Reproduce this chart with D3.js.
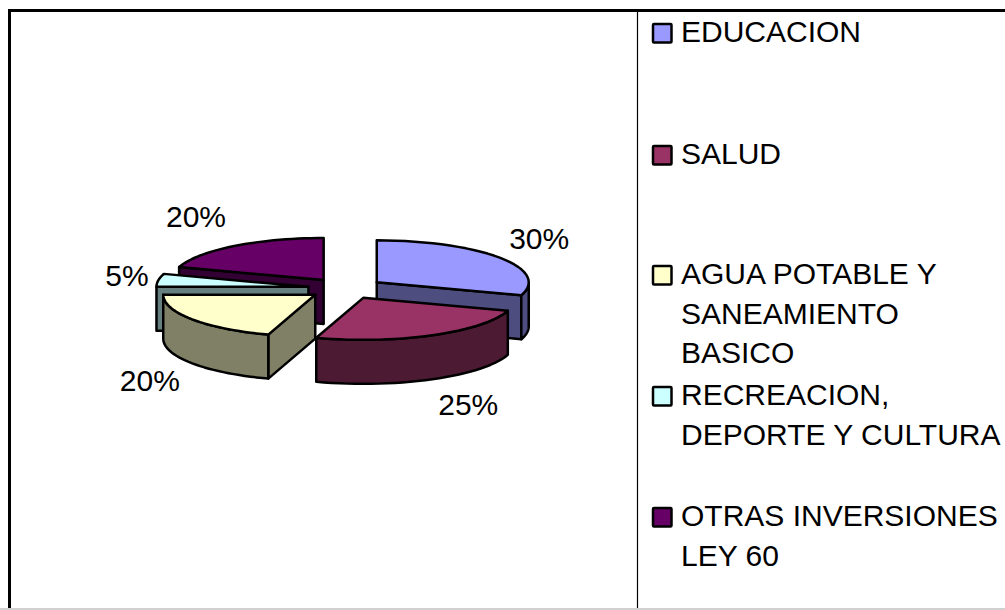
<!DOCTYPE html>
<html>
<head>
    <title>Inversion por sector</title>
    <style>
        html, body { margin: 0; padding: 0; background: #fff; }
        svg { display: block; }
        text { font-family: "Liberation Sans", Arial, sans-serif; fill: #000; }
    </style>
    <script src="https://d3js.org/d3.v7.min.js"></script>
</head>
<body>
    <svg id="chart"></svg>

    <script>
        const categories = ["EDUCACION", "SALUD", "AGUA POTABLE Y SANEAMIENTO BASICO", "RECREACION, DEPORTE Y CULTURA", "OTRAS INVERSIONES LEY 60"];
        const shares = [30, 25, 20, 5, 20];
        const legendLines = [["EDUCACION"], ["SALUD"], ["AGUA POTABLE Y", "SANEAMIENTO", "BASICO"], ["RECREACION,", "DEPORTE Y CULTURA"], ["OTRAS INVERSIONES", "LEY 60"]];
        const faceColors = ["#9999ff", "#993366", "#ffffcc", "#ccffff", "#660066"];
        const wallColors = ["#4d4d80", "#4d1a33", "#808066", "#668080", "#330033"];

        const width = 1005;
        const height = 610;
        const cx = 346, cy = 288.5;
        const rx = 152, ry = 42;   // ellipse of the tilted pie
        const depth = 44;
        const explode = 0.25;
        const tau = 2 * Math.PI;

        const svg = d3.select("#chart").attr("width", width).attr("height", height);

        // frame and legend divider
        svg.append("line").attr("x1", 0).attr("x2", width).attr("y1", 609).attr("y2", 609)
            .attr("stroke", "#d0d0d0").attr("stroke-width", 2);
        svg.append("line").attr("x1", 9.5).attr("x2", 9.5).attr("y1", 9).attr("y2", 608)
            .attr("stroke", "#000").attr("stroke-width", 3);
        svg.append("line").attr("x1", 8).attr("x2", width).attr("y1", 10.5).attr("y2", 10.5)
            .attr("stroke", "#000").attr("stroke-width", 3);
        svg.append("line").attr("x1", 637.5).attr("x2", 637.5).attr("y1", 11).attr("y2", 608)
            .attr("stroke", "#000").attr("stroke-width", 1.2);

        const pie = d3.pie().sort(null).value(d => d);
        const arcs = pie(shares).map((a, i) => ({ ...a, i }));

        const px = d3.scaleLinear().domain([-1, 1]).range([-rx, rx]);
        const py = d3.scaleLinear().domain([-1, 1]).range([-ry, ry]);

        // point on the slice's top face at radius r, angle clockwise from 12 o'clock
        function pt(a, r, ang, drop) {
            const mid = (a.startAngle + a.endAngle) / 2;
            return [
                cx + px(explode * Math.sin(mid) + r * Math.sin(ang)),
                cy + py(-explode * Math.cos(mid) - r * Math.cos(ang)) + (drop || 0)
            ];
        }

        function rim(a, from, to, drop) {
            return d3.range(0, 31).map(k => pt(a, 1, from + (to - from) * k / 30, drop));
        }

        const line = d3.line();

        function radialWall(a, ang) {
            return [pt(a, 0, ang), pt(a, 1, ang), pt(a, 1, ang, depth), pt(a, 0, ang, depth)];
        }

        function drawSlice(g, a) {
            const wall = wallColors[a.i];
            const walls = [];
            if (Math.sin(a.startAngle) < -1e-6) walls.push(radialWall(a, a.startAngle));
            if (Math.sin(a.endAngle) > 1e-6) walls.push(radialWall(a, a.endAngle));
            const from = Math.max(a.startAngle, tau / 4), to = Math.min(a.endAngle, 3 * tau / 4);
            if (to > from) walls.push(rim(a, from, to, 0).concat(rim(a, to, from, depth)));
            walls.forEach(w => {
                g.append("path").attr("d", line(w) + "Z").attr("fill", wall)
                    .attr("stroke", "#000").attr("stroke-width", 2.5).attr("stroke-linejoin", "round");
            });
            const face = [pt(a, 0, a.startAngle)].concat(rim(a, a.startAngle, a.endAngle, 0));
            g.append("path").attr("d", line(face) + "Z").attr("fill", faceColors[a.i])
                .attr("stroke", "#000").attr("stroke-width", 2.5).attr("stroke-linejoin", "round");
        }

        // back to front
        const slices = svg.append("g");
        [4, 0, 3, 2, 1].forEach(i => drawSlice(slices.append("g").attr("class", "slice"), arcs[i]));

        // percent labels
        const labelNudge = [[-5, -1], [11, -4], [2, -2], [23, 0], [-6, -4]];
        svg.append("g").selectAll("text").data(arcs).enter().append("text")
            .attr("font-size", 30)
            .attr("text-anchor", "middle")
            .attr("x", d => cx + 245 * Math.sin((d.startAngle + d.endAngle) / 2) + labelNudge[d.i][0])
            .attr("y", d => {
                const mid = (d.startAngle + d.endAngle) / 2;
                const c = Math.cos(mid);
                return cy - 85 * c + (c < 0 ? depth : 0) + labelNudge[d.i][1] + 11;
            })
            .text(d => d.data + "%");

        // legend
        const legendBaselines = [42, 164, 284, 405, 526];
        const lineStep = 39.5;
        const legend = svg.append("g").selectAll("g").data(categories).enter().append("g");
        legend.append("rect")
            .attr("x", 653).attr("y", (d, i) => legendBaselines[i] - 18)
            .attr("width", 18.5).attr("height", 18.5).attr("rx", 1)
            .attr("fill", (d, i) => faceColors[i])
            .attr("stroke", "#000").attr("stroke-width", 2.5);
        legend.each(function (d, i) {
            d3.select(this).selectAll("text").data(legendLines[i]).enter().append("text")
                .attr("x", 681)
                .attr("y", (t, j) => legendBaselines[i] + j * lineStep)
                .attr("font-size", 30)
                .text(t => t);
        });
    </script>
</body>
</html>
